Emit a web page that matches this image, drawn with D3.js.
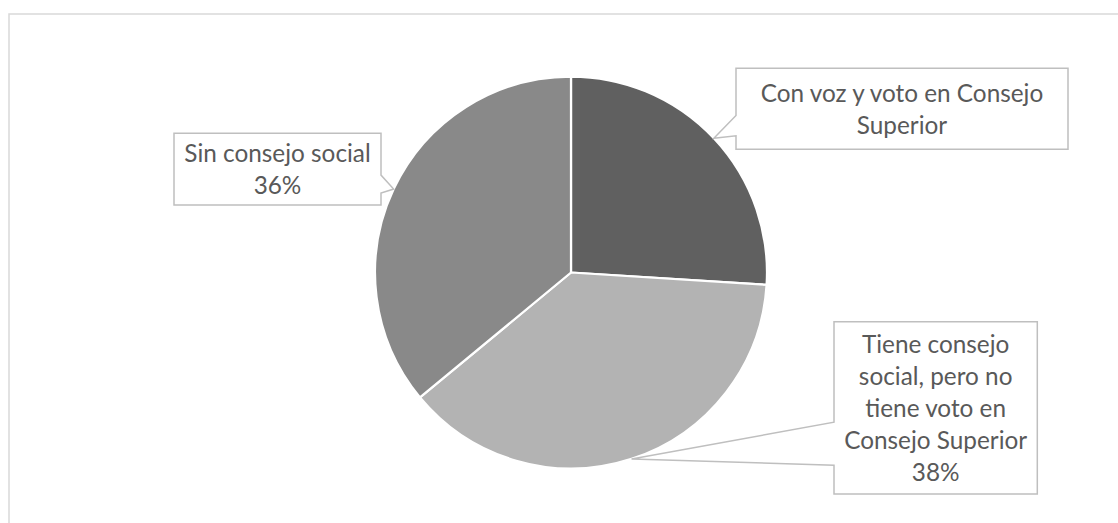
<!DOCTYPE html>
<html>
<head>
<meta charset="utf-8">
<script src="https://cdn.jsdelivr.net/npm/d3@7"></script>
<style>
  html, body { margin: 0; padding: 0; background: #fff; }
  svg { display: block; }
</style>
</head>
<body>
<svg id="chart" width="1118" height="523"></svg>
<script>
// Composition of university social councils
const categories = [
  "Con voz y voto en Consejo Superior",
  "Tiene consejo social, pero no tiene voto en Consejo Superior",
  "Sin consejo social"
];
const shares = [26, 38, 36];
const showPercent = [false, true, true];
// Wrapped label text for each slice's callout
const labelLines = [
  ["Con voz y voto en Consejo", "Superior"],
  ["Tiene consejo", "social, pero no", "tiene voto en", "Consejo Superior"],
  ["Sin consejo social"]
];
const sliceColors = ["#606060", "#b3b3b3", "#898989"];

// Callout box placement (x, y, width, height)
const boxes = [
  { x: 736, y: 68.3, w: 332, h: 81 },
  { x: 834, y: 321.7, w: 203.3, h: 172.3 },
  { x: 174, y: 133.3, w: 207, h: 71.7 }
];

const W = 1118, H = 523;
const cx = 571, cy = 272.5, R = 196;
const fontFamily = "Lato, 'Open Sans', sans-serif";
const textColor = "#595959";

const svg = d3.select("#chart");

// Chart area frame (only top and left edges fall inside the view)
svg.append("rect")
  .attr("x", 9).attr("y", 14)
  .attr("width", W + 40).attr("height", H + 40)
  .attr("fill", "#fff")
  .attr("stroke", "#d9d9d9")
  .attr("stroke-width", 1.5);

const data = categories.map((c, i) => ({ category: c, value: shares[i], i }));

const pie = d3.pie().value(d => d.value).sort(null).startAngle(0).endAngle(2 * Math.PI);
const arcs = pie(data);
const arc = d3.arc().innerRadius(0).outerRadius(R);
const edgeArc = d3.arc().innerRadius(R).outerRadius(R);

const g = svg.append("g").attr("transform", `translate(${cx},${cy})`);
g.selectAll("path.slice")
  .data(arcs)
  .join("path")
  .attr("class", "slice")
  .attr("d", arc)
  .attr("fill", d => sliceColors[d.data.i])
  .attr("stroke", "#fff")
  .attr("stroke-width", 2.25)
  .attr("stroke-linejoin", "round");

// Fit the label font so that a reference line has the intended width
const probe = svg.append("text")
  .attr("font-family", fontFamily).attr("font-size", 100)
  .text("Consejo Superior");
const probeW = probe.node().getComputedTextLength();
probe.remove();
const fontSize = Math.min(26.5, 100 * 183 / probeW);
const lineH = 32;
const capHalf = fontSize * 0.36;

// Callout shape: rectangle with a wedge pointing to the slice edge
function calloutPath(b, tip) {
  const { x, y, w, h } = b;
  const below = tip[1] > y + h / 2;
  const a = y + h * (below ? 7 / 12 : 2 / 12);
  const c = y + h * (below ? 10 / 12 : 5 / 12);
  if (tip[0] < x) {
    return `M${x},${y}H${x + w}V${y + h}H${x}V${c}L${tip[0]},${tip[1]}L${x},${a}Z`;
  } else if (tip[0] > x + w) {
    return `M${x},${y}H${x + w}V${a}L${tip[0]},${tip[1]}L${x + w},${c}V${y + h}H${x}Z`;
  }
  return `M${x},${y}H${x + w}V${y + h}H${x}Z`;
}

const labels = svg.append("g").attr("class", "labels");
arcs.forEach(a => {
  const i = a.data.i;
  const b = boxes[i];
  const c = edgeArc.centroid(a);
  const tip = [cx + c[0], cy + c[1]];
  labels.append("path")
    .attr("d", calloutPath(b, tip))
    .attr("fill", "#fff")
    .attr("stroke", "#bfbfbf")
    .attr("stroke-width", 1.5)
    .attr("stroke-linejoin", "miter");

  const lines = labelLines[i].slice();
  if (showPercent[i]) lines.push(`${a.data.value}%`);
  const midY = b.y + b.h / 2;
  const t = labels.append("text")
    .attr("font-family", fontFamily)
    .attr("font-size", fontSize)
    .attr("fill", textColor)
    .attr("text-anchor", "middle");
  lines.forEach((ln, k) => {
    t.append("tspan")
      .attr("x", b.x + b.w / 2)
      .attr("y", midY + (k - (lines.length - 1) / 2) * lineH + capHalf)
      .text(ln);
  });
});
</script>
</body>
</html>
